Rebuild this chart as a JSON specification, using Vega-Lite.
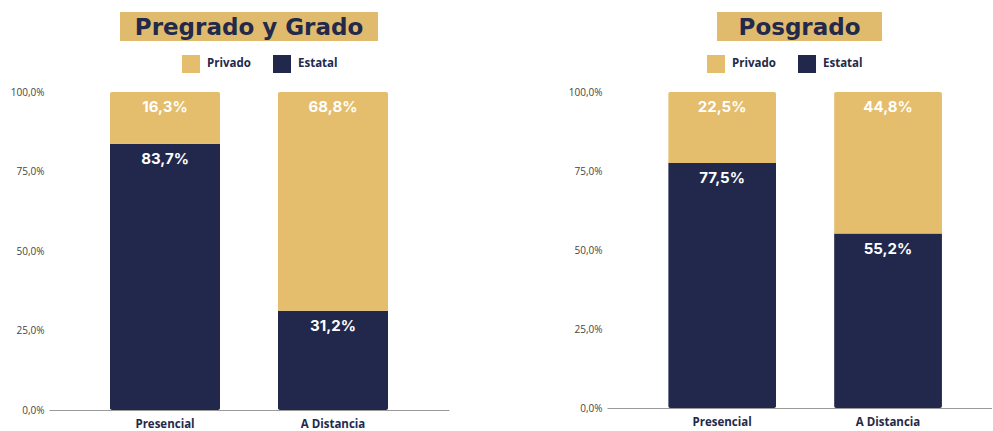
{
  "$schema": "https://vega.github.io/schema/vega-lite/v6.json",
  "padding": {"left": 10, "top": 12, "right": 0, "bottom": 0},
  "background": "white",
  "config": {
    "locale": {"number": {"decimal": ",", "thousands": ".", "grouping": [3], "currency": ["$", ""]}},
    "view": {"stroke": null},
    "axis": {"grid": false, "ticks": false, "title": null}
  },
  "datasets": {
    "pregrado": [
      {"modalidad": "Presencial", "tipo": "Estatal", "valor": 0.837},
      {"modalidad": "Presencial", "tipo": "Privado", "valor": 0.163},
      {"modalidad": "A Distancia", "tipo": "Estatal", "valor": 0.312},
      {"modalidad": "A Distancia", "tipo": "Privado", "valor": 0.688}
    ],
    "posgrado": [
      {"modalidad": "Presencial", "tipo": "Estatal", "valor": 0.775},
      {"modalidad": "Presencial", "tipo": "Privado", "valor": 0.225},
      {"modalidad": "A Distancia", "tipo": "Estatal", "valor": 0.552},
      {"modalidad": "A Distancia", "tipo": "Privado", "valor": 0.448}
    ],
    "t1": [{"t": "Pregrado y Grado"}],
    "t2": [{"t": "Posgrado"}]
  },
  "hconcat": [
    {
      "vconcat": [
        {
          "width": 258, "height": 29,
          "view": {"fill": "#e1bb6d", "stroke": null},
          "data": {"name": "t1"},
          "mark": {"type": "text", "font": "DejaVu Sans", "fontWeight": "bold", "fontSize": 23, "color": "#23294b", "baseline": "middle", "dy": 1},
          "encoding": {"text": {"field": "t"}}
        },
        {
          "width": 400, "height": 318,
          "data": {"name": "pregrado"},
          "encoding": {
            "x": {"field": "modalidad", "type": "nominal", "sort": ["Presencial", "A Distancia"],
                  "scale": {"paddingInner": 0.345, "paddingOuter": 0.363},
                  "axis": {"labelAngle": 0, "labelFont": "Open Sans", "labelFontWeight": "bold", "labelFontSize": 11.5, "labelColor": "#23294b", "labelPadding": 8, "domainColor": "#9a9a9a"}},
            "y": {"field": "valor", "type": "quantitative", "stack": "zero",
                  "scale": {"domain": [0, 1]},
                  "axis": {"values": [0, 0.25, 0.5, 0.75, 1], "format": ".1%", "domain": false, "labelFont": "Open Sans", "labelFontSize": 10, "labelColor": "#444444", "labelPadding": 5}},
            "order": {"field": "tipo", "sort": "ascending"}
          },
          "layer": [
            {
              "mark": {"type": "bar", "cornerRadius": 2},
              "encoding": {
                "color": {"field": "tipo", "type": "nominal",
                  "scale": {"domain": ["Privado", "Estatal"], "range": ["#e4bd6d", "#22284c"]},
                  "legend": {"title": null, "orient": "none", "direction": "horizontal", "legendX": 133, "legendY": 43, "padding": 0,
                    "symbolType": "square", "symbolSize": 324, "symbolStrokeWidth": 0, "symbolOpacity": 1,
                    "labelFont": "Open Sans", "labelFontWeight": "bold", "labelFontSize": 11.5, "labelColor": "#23294b", "labelOffset": 7, "columnPadding": 22}}
              }
            },
            {
              "mark": {"type": "text", "color": "white", "font": "Inter", "fontWeight": "bold", "fontSize": 15, "baseline": "middle", "dy": 15},
              "encoding": {"text": {"field": "valor", "type": "quantitative", "format": ".1%"}}
            }
          ]
        }
      ],
      "spacing": 51,
      "center": true,
      "bounds": "flush"
    },
    {
      "vconcat": [
        {
          "width": 165, "height": 29,
          "view": {"fill": "#e1bb6d", "stroke": null},
          "data": {"name": "t2"},
          "mark": {"type": "text", "font": "DejaVu Sans", "fontWeight": "bold", "fontSize": 23, "color": "#23294b", "baseline": "middle", "dy": 1},
          "encoding": {"text": {"field": "t"}}
        },
        {
          "width": 385, "height": 316,
          "data": {"name": "posgrado"},
          "encoding": {
            "x": {"field": "modalidad", "type": "nominal", "sort": ["Presencial", "A Distancia"],
                  "scale": {"paddingInner": 0.35, "paddingOuter": 0.335, "align": 0.55},
                  "axis": {"labelAngle": 0, "labelFont": "Open Sans", "labelFontWeight": "bold", "labelFontSize": 11.5, "labelColor": "#23294b", "labelPadding": 8, "domainColor": "#9a9a9a"}},
            "y": {"field": "valor", "type": "quantitative", "stack": "zero",
                  "scale": {"domain": [0, 1]},
                  "axis": {"values": [0, 0.25, 0.5, 0.75, 1], "format": ".1%", "domain": false, "labelFont": "Open Sans", "labelFontSize": 10, "labelColor": "#444444", "labelPadding": 5}},
            "order": {"field": "tipo", "sort": "ascending"}
          },
          "layer": [
            {
              "mark": {"type": "bar", "cornerRadius": 2},
              "encoding": {
                "color": {"field": "tipo", "type": "nominal",
                  "scale": {"domain": ["Privado", "Estatal"], "range": ["#e4bd6d", "#22284c"]},
                  "legend": {"title": null, "orient": "none", "direction": "horizontal", "legendX": 100, "legendY": 43, "padding": 0,
                    "symbolType": "square", "symbolSize": 324, "symbolStrokeWidth": 0, "symbolOpacity": 1,
                    "labelFont": "Open Sans", "labelFontWeight": "bold", "labelFontSize": 11.5, "labelColor": "#23294b", "labelOffset": 7, "columnPadding": 22}}
              }
            },
            {
              "mark": {"type": "text", "color": "white", "font": "Inter", "fontWeight": "bold", "fontSize": 15, "baseline": "middle", "dy": 15},
              "encoding": {"text": {"field": "valor", "type": "quantitative", "format": ".1%"}}
            }
          ]
        }
      ],
      "spacing": 51,
      "center": true,
      "bounds": "flush"
    }
  ],
  "spacing": 119,
  "resolve": {"legend": {"color": "independent"}}
}
